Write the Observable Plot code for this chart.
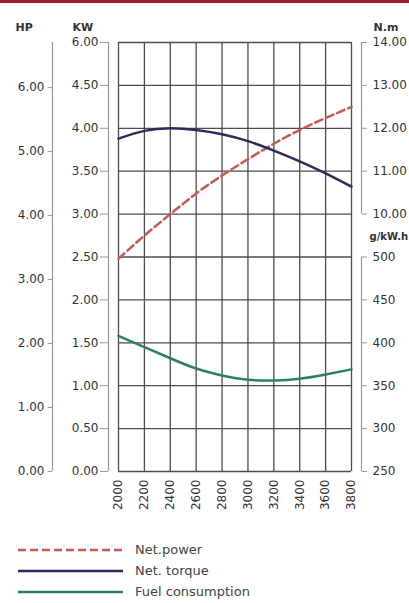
<!DOCTYPE html>
<html>
<head>
<meta charset="utf-8">
<script src="https://cdn.jsdelivr.net/npm/d3@7"></script>
<script src="https://cdn.jsdelivr.net/npm/@observablehq/plot@0.6"></script>
<style>
  html, body { margin: 0; padding: 0; background: #fff; }
  #wrap { position: relative; width: 409px; height: 603px; overflow: hidden; font-family: "DejaVu Sans", sans-serif; }
  #topbar { position: absolute; left: 0; top: 0; width: 409px; height: 3px; background: #9c1c2c; }
  #legend { position: absolute; left: 18px; top: 539px; }
  .row { display: flex; align-items: center; height: 21px; font-size: 13px; color: #444; }
  .row svg { margin-right: 12px; }
</style>
</head>
<body>
<div id="wrap">
  <div id="chart"></div>
  <div id="topbar"></div>
  <div id="legend"></div>
</div>
<script>
// ---- data ----
const rpm = [2000, 2200, 2400, 2600, 2800, 3000, 3200, 3400, 3600, 3800];
const netPowerKW = [2.48, 2.75, 3.00, 3.24, 3.45, 3.64, 3.82, 3.98, 4.12, 4.25];
const netTorqueNm = [11.76, 11.94, 12.00, 11.96, 11.86, 11.70, 11.48, 11.23, 10.95, 10.64];
const fuelGkWh = [408, 395, 382, 370, 362, 357, 356, 358, 363, 369];

const kwTicks = [0, 0.5, 1, 1.5, 2, 2.5, 3, 3.5, 4, 4.5, 5];
const kwTickLabels = ["0.00", "0.50", "1.00", "1.50", "2.00", "2.50", "3.00", "3.50", "4.00", "4.50", "6.00"];
const hpTicks = [0, 1, 2, 3, 4, 5, 6];
const torqueTicks = [10, 11, 12, 13, 14];
const fuelTicks = [250, 300, 350, 400, 450, 500];

const seriesNames = ["Net.power", "Net. torque", "Fuel consumption"];
const seriesColors = ["#c65a55", "#2b2b5e", "#2f7f5f"];

// ---- scale mappings (secondary axes onto the kW scale) ----
const KW_PER_HP = 0.7457;
const torqueToKW = t => 3 + (t - 10) / 2;
const kwToTorque = k => 10 + (k - 3) * 2;
const fuelToKW = g => (g - 250) / 100;
const kwToFuel = k => 250 + k * 100;

const rows = rpm.map((r, i) => ({
  rpm: r,
  power: netPowerKW[i],
  torque: netTorqueNm[i],
  fuel: fuelGkWh[i]
}));

const rpmMin = rpm[0], rpmMax = rpm[rpm.length - 1];
const kwMax = kwTicks[kwTicks.length - 1];

const labelStyle = { text: d => d, textAnchor: "start", fontSize: 11, fontWeight: "bold", fill: "#333" };

const chart = Plot.plot({
  width: 409,
  height: 530,
  marginLeft: 118,
  marginRight: 58,
  marginTop: 42,
  marginBottom: 59,
  style: { fontFamily: "DejaVu Sans, sans-serif", fontSize: "12px", color: "#333", background: "white", overflow: "visible" },
  x: { domain: [rpmMin, rpmMax], label: null },
  y: { domain: [0, kwMax], label: null },
  marks: [
    Plot.gridX(rpm, { stroke: "#4d4d4d", strokeOpacity: 1, strokeWidth: 1.3 }),
    Plot.gridY(kwTicks, { stroke: "#4d4d4d", strokeOpacity: 1, strokeWidth: 1.3 }),
    // axis spines
    Plot.ruleX([rpmMin], { dx: -10, y1: 0, y2: kwMax, stroke: "#999", strokeWidth: 1.2 }),
    Plot.ruleX([rpmMin], { dx: -66, y1: 0, y2: kwMax, stroke: "#999", strokeWidth: 1.2 }),
    Plot.ruleX([rpmMax], { dx: 10, y1: torqueToKW(torqueTicks[0]), y2: torqueToKW(torqueTicks[torqueTicks.length - 1]), stroke: "#999", strokeWidth: 1.2 }),
    Plot.ruleX([rpmMax], { dx: 10, y1: fuelToKW(fuelTicks[0]), y2: fuelToKW(fuelTicks[fuelTicks.length - 1]), stroke: "#999", strokeWidth: 1.2 }),
    // KW axis
    Plot.axisY({ anchor: "left", ticks: kwTicks, tickFormat: d => kwTickLabels[kwTicks.indexOf(d)], dx: -10, tickSize: 8, tickPadding: 2, label: null, stroke: "#999" }),
    // HP axis
    Plot.axisY({ anchor: "left", ticks: hpTicks.map(h => h * KW_PER_HP), tickFormat: d => (d / KW_PER_HP).toFixed(2), dx: -66, tickSize: 4, tickPadding: 4, label: null, stroke: "#999" }),
    // Torque axis
    Plot.axisY({ anchor: "right", ticks: torqueTicks.map(torqueToKW), tickFormat: d => kwToTorque(d).toFixed(2), dx: 10, tickSize: 5, tickPadding: 6, label: null, stroke: "#999" }),
    // Fuel axis
    Plot.axisY({ anchor: "right", ticks: fuelTicks.map(fuelToKW), tickFormat: d => String(Math.round(kwToFuel(d))), dx: 10, tickSize: 5, tickPadding: 6, label: null, stroke: "#999" }),
    // X axis
    Plot.axisX({ ticks: rpm, tickFormat: d3.format("d"), tickRotate: -90, tickSize: 0, tickPadding: 8, label: null }),
    // lines
    Plot.line(rows, { x: "rpm", y: "power", stroke: seriesColors[0], strokeWidth: 2.5, strokeDasharray: "8,4", curve: "natural" }),
    Plot.line(rows, { x: "rpm", y: d => torqueToKW(d.torque), stroke: seriesColors[1], strokeWidth: 2.5, curve: "natural" }),
    Plot.line(rows, { x: "rpm", y: d => fuelToKW(d.fuel), stroke: seriesColors[2], strokeWidth: 2.5, curve: "natural" }),
    // unit labels
    Plot.text(["HP"], { frameAnchor: "top-left", dx: -103, dy: -19, ...labelStyle }),
    Plot.text(["KW"], { frameAnchor: "top-left", dx: -46, dy: -19, ...labelStyle }),
    Plot.text(["N.m"], { frameAnchor: "top-right", dx: 22, dy: -19, ...labelStyle }),
    Plot.text(["g/kW.h"], { frameAnchor: "top-right", dx: 18, dy: 190, ...labelStyle, fontSize: 10 })
  ]
});
document.getElementById("chart").appendChild(chart);

// legend
const legend = document.getElementById("legend");
seriesNames.forEach((name, i) => {
  const row = document.createElement("div");
  row.className = "row";
  const dash = i === 0 ? ' stroke-dasharray="8,4"' : "";
  row.innerHTML = `<svg width="105" height="6"><line x1="0" y1="3" x2="105" y2="3" stroke="${seriesColors[i]}" stroke-width="2.5"${dash}/></svg><span>${name}</span>`;
  legend.appendChild(row);
});
</script>
</body>
</html>
